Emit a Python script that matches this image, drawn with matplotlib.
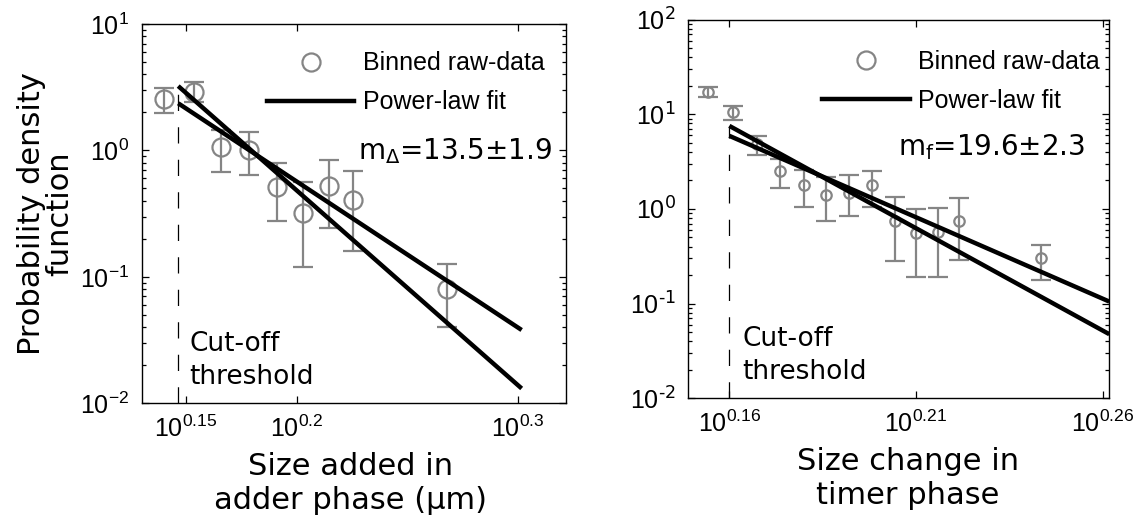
import matplotlib

matplotlib.use("Agg")
import matplotlib.pyplot as plt
from matplotlib.lines import Line2D
from matplotlib.ticker import FixedLocator, LogLocator, NullLocator

# Left panel: size added in adder phase (um)
adder_x = [1.3801, 1.4237, 1.4655, 1.5087, 1.5527, 1.5962, 1.6398, 1.6807, 1.8544]
adder_y = [2.54, 2.91, 1.07, 1.00, 0.516, 0.318, 0.523, 0.405, 0.080]
adder_lo = [1.99, 2.40, 0.68, 0.64, 0.278, 0.12, 0.242, 0.16, 0.040]
adder_hi = [3.10, 3.46, 1.46, 1.39, 0.79, 0.56, 0.84, 0.687, 0.126]
adder_fit_x = [1.4012, 2.0035]
adder_fit_steep = [3.23, 0.0131]
adder_fit_shallow = [2.36, 0.038]
adder_cutoff = 1.4012
adder_xticks = [1.4125, 1.5849, 1.9953]
adder_xticklabels = ["0.15", "0.2", "0.3"]
adder_yticks = [0.01, 0.1, 1, 10]
adder_yticklabels = ["\u22122", "\u22121", "0", "1"]

# Right panel: size change in timer phase
timer_x = [1.4269, 1.4484, 1.4699, 1.4914, 1.5136, 1.5346, 1.5563, 1.5783,
           1.6007, 1.6222, 1.6440, 1.6653, 1.7519]
timer_y = [17.3, 10.5, 4.85, 2.53, 1.77, 1.41, 1.47, 1.80, 0.74, 0.559, 0.567, 0.753, 0.30]
timer_lo = [15.3, 8.71, 3.67, 1.66, 1.05, 0.75, 0.85, 1.06, 0.28, 0.19, 0.19, 0.286, 0.177]
timer_hi = [19.5, 12.3, 5.91, 3.40, 2.59, 2.17, 2.30, 2.53, 1.32, 1.00, 1.02, 1.31, 0.414]
timer_fit_x = [1.4454, 1.8273]
timer_fit_steep = [7.53, 0.0475]
timer_fit_shallow = [5.91, 0.105]
timer_cutoff = 1.4454
timer_xticks = [1.4454, 1.6218, 1.8197]
timer_xticklabels = ["0.16", "0.21", "0.26"]
timer_yticks = [0.01, 0.1, 1, 10, 100]
timer_yticklabels = ["-2", "-1", "0", "1", "2"]

GREY = "#858585"
TEXT_FONT = "DejaVu Sans"
TICK_FONT = "Liberation Sans"

plt.rcParams["mathtext.fontset"] = "dejavusans"


def draw_panel(ax, x, y, lo, hi, fit_x, fit_a, fit_b, cutoff, xlim, ylim,
               xticks, xticklabels, yticks, yticklabels, msize, note, xlabel,
               hyphen, legend_anchor, note_pos, cut_pos, label_x):
    yerr = [[yy - l for yy, l in zip(y, lo)], [h - yy for yy, h in zip(y, hi)]]
    ax.errorbar(x, y, yerr=yerr, fmt="o", mfc="none", mec=GREY, mew=1.6,
                ms=msize, ecolor=GREY, elinewidth=1.6, capsize=7, capthick=1.6,
                zorder=2)
    ax.plot(fit_x, fit_a, color="black", lw=3.2, solid_capstyle="butt", zorder=3)
    ax.plot(fit_x, fit_b, color="black", lw=3.2, solid_capstyle="butt", zorder=3)
    ax.plot([cutoff, cutoff], [ylim[0], max(fit_a[0], fit_b[0])], color="black",
            lw=0.9, linestyle=(0, (13, 13)), zorder=1)

    ax.set_xscale("log")
    ax.set_yscale("log")
    ax.set_xlim(xlim)
    ax.set_ylim(ylim)

    ax.xaxis.set_major_locator(FixedLocator(xticks))
    ax.xaxis.set_minor_locator(NullLocator())
    ax.set_xticklabels([r"$\mathregular{10^{%s}}$" % s for s in xticklabels])
    ax.yaxis.set_major_locator(FixedLocator(yticks))
    ax.yaxis.set_minor_locator(LogLocator(base=10, subs=range(2, 10), numticks=20))
    if hyphen:
        ylabels = [r"$\mathregular{10^{\text{%s}}}$" % s for s in yticklabels]
    else:
        ylabels = [r"$\mathregular{10^{%s}}$" % s for s in yticklabels]
    ax.set_yticklabels(ylabels)

    ax.tick_params(which="both", direction="in", top=True, right=True, width=0.9)
    ax.tick_params(which="major", length=5, pad=9, labelsize=18)
    ax.tick_params(which="minor", length=3)
    for lab in ax.get_xticklabels() + ax.get_yticklabels():
        lab.set_fontfamily(TICK_FONT)
    for sp in ax.spines.values():
        sp.set_linewidth(1.0)

    ax.set_xlabel(xlabel, fontsize=22, family=TEXT_FONT, linespacing=1.22, labelpad=7)
    ax.xaxis.label.set_x(label_x)

    handles = [
        Line2D([], [], ls="none", marker="o", ms=13, mfc="none", mec=GREY, mew=1.6),
        Line2D([], [], color="black", lw=3.2),
    ]
    ax.legend(handles, ["Binned raw-data", "Power-law fit"], loc="upper left",
              bbox_to_anchor=legend_anchor, frameon=False, borderpad=0,
              borderaxespad=0, handlelength=3.5, handletextpad=0.35,
              labelspacing=0.6, prop={"family": TICK_FONT, "size": 18})

    ax.text(note_pos[0], note_pos[1], note, transform=ax.transAxes, fontsize=20,
            family=TEXT_FONT, va="baseline", ha="left")
    ax.text(cut_pos[0], cut_pos[1], "Cut-off\nthreshold", transform=ax.transAxes,
            fontsize=19, family=TEXT_FONT, va="baseline", ha="left", linespacing=1.33)


fig = plt.figure(figsize=(11.44, 5.22), dpi=100)
ax1 = fig.add_axes([0.1239, 0.2274, 0.3709, 0.7266])
ax2 = fig.add_axes([0.6017, 0.2370, 0.3680, 0.7256])

draw_panel(ax1, adder_x, adder_y, adder_lo, adder_hi, adder_fit_x,
           adder_fit_steep, adder_fit_shallow, adder_cutoff, (1.349, 2.0983),
           (0.01, 10), adder_xticks, adder_xticklabels, adder_yticks,
           adder_yticklabels, 13, r"m$_{\Delta}$=13.5±1.9",
           "Size added in\nadder phase (μm)", False, (0.295, 0.928),
           (0.51, 0.643), (0.112, 0.051), 0.491)
draw_panel(ax2, timer_x, timer_y, timer_lo, timer_hi, timer_fit_x,
           timer_fit_steep, timer_fit_shallow, timer_cutoff, (1.4093, 1.8273),
           (0.01, 100), timer_xticks, timer_xticklabels, timer_yticks,
           timer_yticklabels, 7.5, r"m$_{\mathregular{f}}$=19.6±2.3",
           "Size change in\ntimer phase", True, (0.318, 0.92),
           (0.497, 0.642), (0.128, 0.051), 0.521)

ax1.set_ylabel("Probability density\nfunction", fontsize=22, family=TEXT_FONT,
               linespacing=1.0, labelpad=4)

fig.savefig("out.png", dpi=100)
